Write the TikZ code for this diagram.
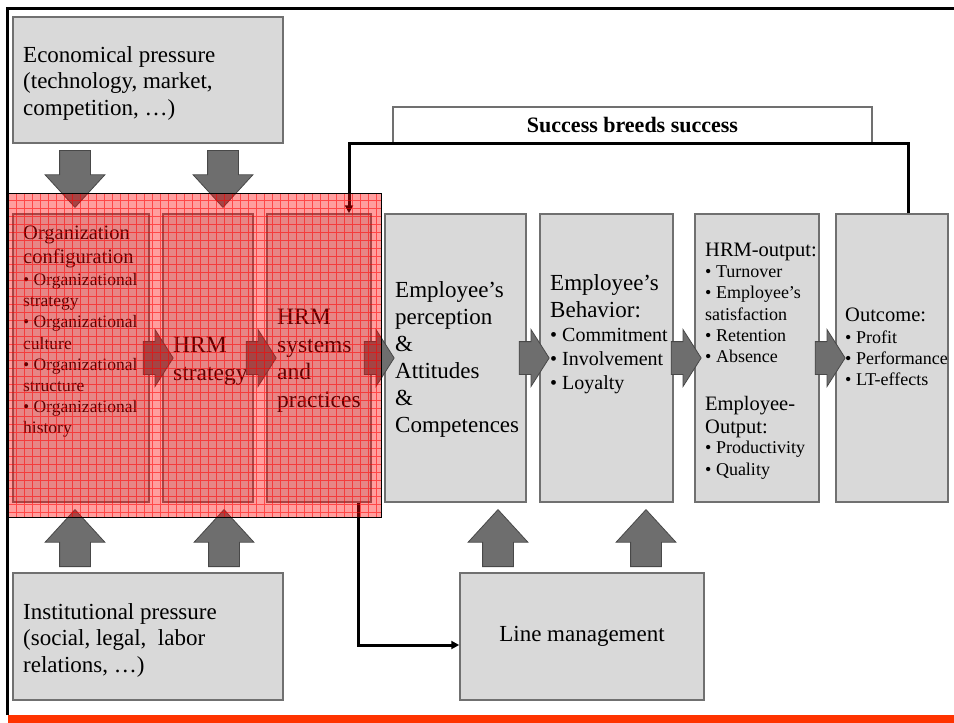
\documentclass[tikz,border=0pt]{standalone}
\usepackage{fontspec}
\setmainfont{Liberation Serif}
\usetikzlibrary{shapes.arrows}
\usetikzlibrary{arrows.meta}
\usetikzlibrary{calc}
\definecolor{boxfill}{HTML}{D9D9D9}
\definecolor{boxline}{HTML}{707070}
\definecolor{arrfill}{HTML}{6E6E6E}
\definecolor{arrline}{HTML}{484848}
\definecolor{bandred}{HTML}{FF3300}
\tikzset{
  pbox/.style={draw=boxline, fill=boxfill, line width=1.5pt, inner sep=0pt},
  txt/.style={anchor=north west, inner sep=0pt, align=left},
  fatR/.style={single arrow, draw=arrline, fill=arrfill, line width=.8pt, inner xsep=0pt, inner ysep=16pt,
    minimum height=30pt, single arrow head extend=12pt, single arrow tip angle=115, anchor=tail},
  fatV/.style={single arrow, draw=arrline, fill=arrfill, line width=.8pt, inner xsep=0pt, inner ysep=15pt,
    minimum height=57pt, single arrow head extend=14.5pt, single arrow tip angle=85, anchor=tail},
  backline/.style={line width=3pt, -{Triangle[length=8pt,width=8pt]}},
}
\newcommand{\fs}[2]{\fontsize{#1}{#2}\selectfont}

\begin{document}
\begin{tikzpicture}[x=1pt,y=-1pt]
\useasboundingbox (0,0) rectangle (954,723);
% pressures
\node[pbox, minimum width=270pt, minimum height=126pt] (econ) at (148,80) {};
\node[txt, font=\fs{23}{26.5}] (econT) at (23,46) {Economical pressure\\(technology, market,\\competition, …)};
\node[pbox, minimum width=270pt, minimum height=127pt] (inst) at (148,636.5) {};
\node[txt, font=\fs{23}{26.5}] (instT) at (23,603) {Institutional pressure\\(social, legal,\ \ labor\\relations, …)};
\node[pbox, minimum width=244pt, minimum height=127pt, font=\fs{23}{27}] (lm) at (582,636.5) {Line management};
% the chain of boxes
\node[pbox, minimum width=136pt, minimum height=288pt] (org) at (81,358) {};
\node[pbox, minimum width=90pt, minimum height=288pt] (strat) at (208,358) {};
\node[pbox, minimum width=104pt, minimum height=288pt] (sys) at (319,358) {};
\node[pbox, minimum width=141pt, minimum height=288pt] (perc) at (455.5,358) {};
\node[pbox, minimum width=133pt, minimum height=288pt] (beh) at (606.5,358) {};
\node[pbox, minimum width=124pt, minimum height=288pt] (hout) at (757,358) {};
\node[pbox, minimum width=112pt, minimum height=288pt] (outc) at (892,358) {};
%     texts
\node[txt, font=\fs{20.5}{24}] (orgH) at (23,226) {Organization\\configuration};
\node[txt, font=\fs{17.5}{21.1}] (orgL) at (23,273.4) {• Organizational\\strategy\\• Organizational\\culture\\• Organizational\\structure\\• Organizational\\history};
\node[txt, font=\fs{23.5}{28}] (stratT) at (173,337) {HRM\\strategy};
\node[txt, font=\fs{23.5}{27.7}] (sysT) at (277,309) {HRM\\systems\\and\\practices};
\node[txt, font=\fs{23}{27}] (percT) at (395,281) {Employee’s\\perception\\\&\\Attitudes\\\&\\Competences};
\node[txt, font=\fs{23}{27}] (behH) at (550,274) {Employee’s\\Behavior:};
\node[txt, font=\fs{20}{24}] (behL) at (550,328.3) {• Commitment\\• Involvement\\• Loyalty};
\node[txt, font=\fs{20.5}{24}] (houtH) at (705,243) {HRM-output:};
\node[txt, font=\fs{18}{21.2}] (houtL) at (705,265.7) {• Turnover\\• Employee’s\\satisfaction\\• Retention\\• Absence};
\node[txt, font=\fs{20.5}{23.5}] (houtH2) at (705,396) {Employee-\\Output:};
\node[txt, font=\fs{18}{22}] (houtL2) at (705,440.7) {• Productivity\\• Quality};
\node[txt, font=\fs{20.5}{24}] (outcH) at (845,308) {Outcome:};
\node[txt, font=\fs{18}{21}] (outcL) at (845,330.7) {• Profit\\• Performance\\• LT-effects};
% fat arrows
\node[fatR] (r1) at ([xshift=-7pt]org.east) {};
\node[fatR] (r2) at ([xshift=-8pt]strat.east) {};
\node[fatR] (r3) at ([xshift=-8pt]sys.east) {};
\node[fatR] (r4) at ([xshift=-8pt]perc.east) {};
\node[fatR] (r5) at ([xshift=-3pt]beh.east) {};
\node[fatR] (r6) at ([xshift=-5pt]hout.east) {};
\node[fatV, rotate=-90] (d1) at (75,150) {};
\node[fatV, rotate=-90] (d2) at (223,150) {};
\node[fatV, rotate=90] (u1) at (75,567) {};
\node[fatV, rotate=90] (u2) at (224,567) {};
\node[fatV, rotate=90] (u3) at (498,567) {};
\node[fatV, rotate=90] (u4) at (646,567) {};
% feedback
\node[draw=boxline, fill=white, line width=1.5pt, minimum width=479pt, minimum height=36pt,
  font=\bfseries\fs{22}{26}] (succ) at (632.5,125) {Success breeds success};
\draw[backline] ([xshift=16pt]outc.north) |- ([xshift=30pt]sys.north |- succ.south) -- ([xshift=30pt]sys.north);
\draw[backline] ([xshift=39pt]sys.south) |- ([yshift=-8.5pt]lm.west);
% the red area
\fill[red, opacity=.38] (8,193) rectangle (381,517);
\draw[red, line width=.6pt, opacity=.55] (8,193) grid[step=8pt] (381,517);
\draw[black, line width=.8pt] (8,193) rectangle (381,517);
% frame
\draw[line width=3pt] (7,715) -- (7,8) -- (954,8);
\fill[bandred] (8,715) rectangle (954,723);
\end{tikzpicture}
\end{document}
